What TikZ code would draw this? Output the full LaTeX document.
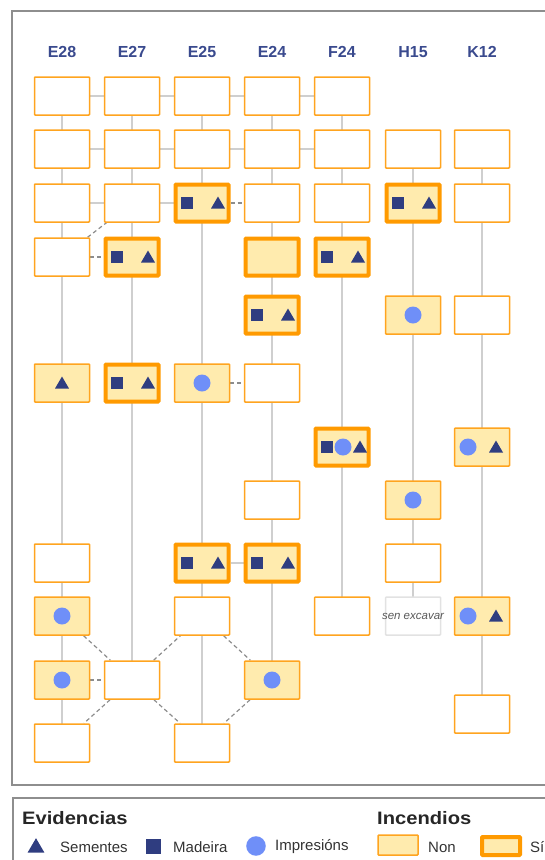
\documentclass[tikz,border=0pt]{standalone}
\usepackage{fontspec}
\setmainfont{Liberation Sans}
\setsansfont{Liberation Sans}
\newfontfamily\widesans[FakeStretch=1.12]{Liberation Sans}
\usetikzlibrary{backgrounds}
\definecolor{ink}{HTML}{2F3D80}
\definecolor{hdr}{HTML}{3A4A8E}
\definecolor{dot}{HTML}{6F8FF8}
\definecolor{amber}{HTML}{FFA41F}
\definecolor{fire}{HTML}{FF9A00}
\definecolor{straw}{HTML}{FFEBAE}
\definecolor{rail}{HTML}{CFCFCF}
\definecolor{frame}{HTML}{8E8E8E}
\tikzset{
  capa/.style={draw=amber, fill=white, line width=1.5pt, minimum width=55pt, minimum height=38pt, inner sep=0pt, rounded corners=0.8pt},
  non/.style={capa, fill=straw},
  si/.style={capa, draw=fire, fill=straw, line width=4pt, minimum width=53pt, minimum height=37pt},
  nodig/.style={capa, draw=rail!60, font=\itshape\fontsize{11.5}{13}\selectfont, text=black!65},
  col/.style={font=\bfseries\fontsize{16}{19}\selectfont, text=hdr},
  link/.style={rail, line width=1.5pt},
  maybe/.style={black!45, line width=1.2pt, dash pattern=on 4pt off 3pt},
  ttl/.style={font=\widesans\bfseries\fontsize{18}{21}\selectfont, text=black!85, anchor=west, inner sep=0pt},
  key/.style={font=\fontsize{15}{17}\selectfont, text=black!80, anchor=west, inner sep=0pt},
}
\newcommand{\madeira}[3][1]{\fill[ink, shift={(#2.center)}, xshift=#3pt, scale=#1] (-6,-6) rectangle (6,6);}
\newcommand{\sementes}[3][1]{\fill[ink, shift={(#2.center)}, xshift=#3pt, scale=#1] (-7,5.5) -- (7,5.5) -- (0,-6.5) -- cycle;}
\newcommand{\impresion}[3][1]{\fill[dot, shift={(#2.center)}, xshift=#3pt, scale=#1] (0,0) circle (8.5pt);}

\begin{document}
\begin{tikzpicture}[x=1pt, y=-1pt]
\useasboundingbox (0,0) rectangle (545,860);
\node[col] (h-e28) at (62,52) {E28};
\node[col] (h-e27) at (132,52) {E27};
\node[col] (h-e25) at (202,52) {E25};
\node[col] (h-e24) at (272,52) {E24};
\node[col] (h-f24) at (342,52) {F24};
\node[col] (h-h15) at (413,52) {H15};
\node[col] (h-k12) at (482,52) {K12};

\node[capa] (e28-1) at (62,96) {};
\node[capa] (e28-2) at (62,149) {};
\node[capa] (e28-3) at (62,203) {};
\node[capa] (e28-4) at (62,257) {};
\node[non] (e28-6) at (62,383) {};
\node[capa] (e28-9) at (62,563) {};
\node[non] (e28-10) at (62,616) {};
\node[non] (e28-11) at (62,680) {};
\node[capa] (e28-12) at (62,743) {};

\node[capa] (e27-1) at (132,96) {};
\node[capa] (e27-2) at (132,149) {};
\node[capa] (e27-3) at (132,203) {};
\node[si] (e27-4) at (132,257) {};
\node[si] (e27-6) at (132,383) {};
\node[capa] (e27-11) at (132,680) {};

\node[capa] (e25-1) at (202,96) {};
\node[capa] (e25-2) at (202,149) {};
\node[si] (e25-3) at (202,203) {};
\node[non] (e25-6) at (202,383) {};
\node[si] (e25-9) at (202,563) {};
\node[capa] (e25-10) at (202,616) {};
\node[capa] (e25-12) at (202,743) {};

\node[capa] (e24-1) at (272,96) {};
\node[capa] (e24-2) at (272,149) {};
\node[capa] (e24-3) at (272,203) {};
\node[si] (e24-4) at (272,257) {};
\node[si] (e24-5) at (272,315) {};
\node[capa] (e24-6) at (272,383) {};
\node[capa] (e24-8) at (272,500) {};
\node[si] (e24-9) at (272,563) {};
\node[non] (e24-11) at (272,680) {};

\node[capa] (f24-1) at (342,96) {};
\node[capa] (f24-2) at (342,149) {};
\node[capa] (f24-3) at (342,203) {};
\node[si] (f24-4) at (342,257) {};
\node[si] (f24-7) at (342,447) {};
\node[capa] (f24-10) at (342,616) {};

\node[capa] (h15-2) at (413,149) {};
\node[si] (h15-3) at (413,203) {};
\node[non] (h15-5) at (413,315) {};
\node[non] (h15-8) at (413,500) {};
\node[capa] (h15-9) at (413,563) {};
\node[nodig] (h15-10) at (413,616) {\makebox[0pt]{sen excavar}};

\node[capa] (k12-2) at (482,149) {};
\node[capa] (k12-3) at (482,203) {};
\node[capa] (k12-5) at (482,315) {};
\node[non] (k12-7) at (482,447) {};
\node[non] (k12-10) at (482,616) {};
\node[capa] (k12-11) at (482,714) {};

\begin{scope}[on background layer]
\draw[frame, line width=1.5pt] (12,11) rectangle (570,785);
\draw[link] (e28-1.center) -- (e28-12.center);
\draw[link] (e27-1.center) -- (e27-11.center);
\draw[link] (e25-1.center) -- (e25-12.center);
\draw[link] (e24-1.center) -- (e24-11.center);
\draw[link] (f24-1.center) -- (f24-10.center);
\draw[link] (h15-2.center) -- (h15-10.center);
\draw[link] (k12-2.center) -- (k12-11.center);
\draw[link] (e28-1) -- (e27-1) -- (e25-1) -- (e24-1) -- (f24-1);
\draw[link] (e28-2) -- (e27-2) -- (e25-2) -- (e24-2) -- (f24-2);
\draw[link] (e28-3) -- (e27-3) -- (e25-3);
\draw[link] (e25-9) -- (e24-9);
\draw[maybe] (e25-3) -- (e24-3);
\draw[maybe] (e28-4) -- (e27-4);
\draw[maybe] (e28-4) -- (e27-3);
\draw[maybe] (e25-6) -- (e24-6);
\draw[maybe] (e28-10) -- (e27-11);
\draw[maybe] (e28-11) -- (e27-11);
\draw[maybe] (e27-11) -- (e28-12);
\draw[maybe] (e27-11) -- (e25-10);
\draw[maybe] (e27-11) -- (e25-12);
\draw[maybe] (e25-10) -- (e24-11);
\draw[maybe] (e24-11) -- (e25-12);
\end{scope}

\madeira{e27-4}{-15} \sementes{e27-4}{16}
\madeira{e27-6}{-15} \sementes{e27-6}{16}
\madeira{e25-3}{-15} \sementes{e25-3}{16}
\madeira{e25-9}{-15} \sementes{e25-9}{16}
\madeira{e24-5}{-15} \sementes{e24-5}{16}
\madeira{e24-9}{-15} \sementes{e24-9}{16}
\madeira{f24-4}{-15} \sementes{f24-4}{16}
\madeira{h15-3}{-15} \sementes{h15-3}{16}
\madeira{f24-7}{-15} \impresion{f24-7}{1} \sementes{f24-7}{18}
\sementes{e28-6}{0}
\impresion{e25-6}{0}
\impresion{h15-5}{0}
\impresion{h15-8}{0}
\impresion{e28-10}{0}
\impresion{e28-11}{0}
\impresion{e24-11}{0}
\impresion{k12-7}{-14} \sementes{k12-7}{14}
\impresion{k12-10}{-14} \sementes{k12-10}{14}

\draw[frame, line width=1.5pt] (13,798) rectangle (570,880);
\node[ttl] (ev) at (22,818) {Evidencias};
\coordinate (k-sem) at (36,846);
\node[key] (sem) at (60,847) {Sementes};
\coordinate (k-mad) at (153,846);
\node[key] (mad) at (173,847) {Madeira};
\coordinate (k-imp) at (256,846);
\node[key] (imp) at (275,847) {Impresións};
\sementes[1.2]{k-sem}{0} \madeira[1.25]{k-mad}{0} \impresion[1.15]{k-imp}{0}
\node[ttl] (inc) at (377,818) {Incendios};
\node[non, minimum width=40pt, minimum height=20pt] (k-non) at (398,845) {};
\node[key] (non) at (428,847) {Non};
\node[si, minimum width=38pt, minimum height=18pt] (k-si) at (501,846) {};
\node[key] (si) at (530,847) {Sí};
\end{tikzpicture}
\end{document}
